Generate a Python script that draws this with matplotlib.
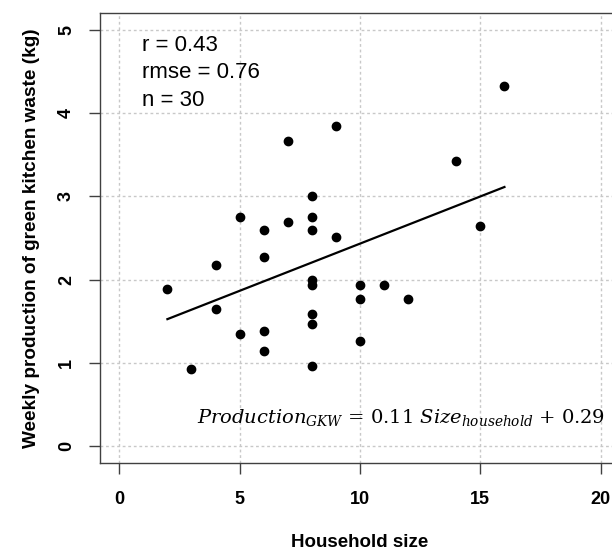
import matplotlib
matplotlib.use("Agg")
import matplotlib.pyplot as plt
from matplotlib.patches import Rectangle
import numpy as np

# household size vs weekly green kitchen waste (kg)
household_size = [16, 9, 7, 14, 8, 5, 6, 7, 8, 8, 9, 15,
                  6, 4, 2, 8, 8, 10, 11, 10, 12, 4, 8, 8,
                  5, 6, 6, 10, 3, 8]
weekly_waste = [4.33, 3.85, 3.67, 3.43, 3.01, 2.75, 2.60, 2.69, 2.75, 2.60, 2.51, 2.64,
                2.27, 2.18, 1.89, 2.00, 1.94, 1.94, 1.94, 1.77, 1.77, 1.65, 1.59, 1.47,
                1.35, 1.39, 1.15, 1.26, 0.93, 0.97]
stats_lines = ["r = 0.43", "rmse = 0.76", "n = 30"]
equation = r"$Production_{GKW}$ = 0.11 $Size_{household}$ + 0.29"
x_ticks = [0, 5, 10, 15, 20]
y_ticks = [0, 1, 2, 3, 4, 5]

plt.rcParams['font.family'] = ['Liberation Sans', 'DejaVu Sans']
plt.rcParams['mathtext.fontset'] = 'dejavuserif'

fig = plt.figure(figsize=(6.12, 5.51), dpi=100)
ax = fig.add_axes([100 / 612, 88 / 551, 520 / 612, 450 / 551])

x = np.array(household_size, dtype=float)
y = np.array(weekly_waste, dtype=float)

ax.set_xlim(-0.8, 20.8)
ax.set_ylim(-0.2, 5.2)
ax.set_xticks(x_ticks)
ax.set_yticks(y_ticks)
ax.grid(True, color='#c8c8c8', linestyle=(0, (2, 2)), linewidth=1.0, zorder=0)

# white band behind the equation, covers the grid
ax.add_patch(Rectangle((0, 0.051), 1, 0.096, transform=ax.transAxes,
                       facecolor='white', edgecolor='none', zorder=1))

ax.scatter(x, y, s=36, color='black', zorder=3)

slope, intercept = np.polyfit(x, y, 1)
xs = np.array([x.min(), x.max()])
ax.plot(xs, slope * xs + intercept, color='black', linewidth=1.6, zorder=3)

for i, line in enumerate(stats_lines):
    ax.text(0.081, 0.916 - i * 0.0615, line, transform=ax.transAxes,
            fontsize=16, va='baseline', ha='left', zorder=4)

ax.text(0.971, 0.089, equation, transform=ax.transAxes, fontsize=14,
        ha='right', va='baseline', family='DejaVu Serif', zorder=4)

for s in ax.spines.values():
    s.set_color('#404040')
    s.set_linewidth(1.0)

ax.tick_params(axis='both', direction='out', length=8, width=1.0,
               color='#404040', labelsize=13)
ax.tick_params(axis='x', pad=12)
ax.tick_params(axis='y', pad=10)
for lbl in ax.get_xticklabels():
    lbl.set_fontweight('bold')
for lbl in ax.get_yticklabels():
    lbl.set_fontweight('bold')
    lbl.set_rotation(90)
    lbl.set_va('center')

ax.set_xlabel("Household size", fontsize=13.5, fontweight='bold', labelpad=19)
ax.set_ylabel("Weekly production of green kitchen waste (kg)", fontsize=13.7,
              fontweight='bold', labelpad=13)

fig.savefig("out.png", dpi=100)
